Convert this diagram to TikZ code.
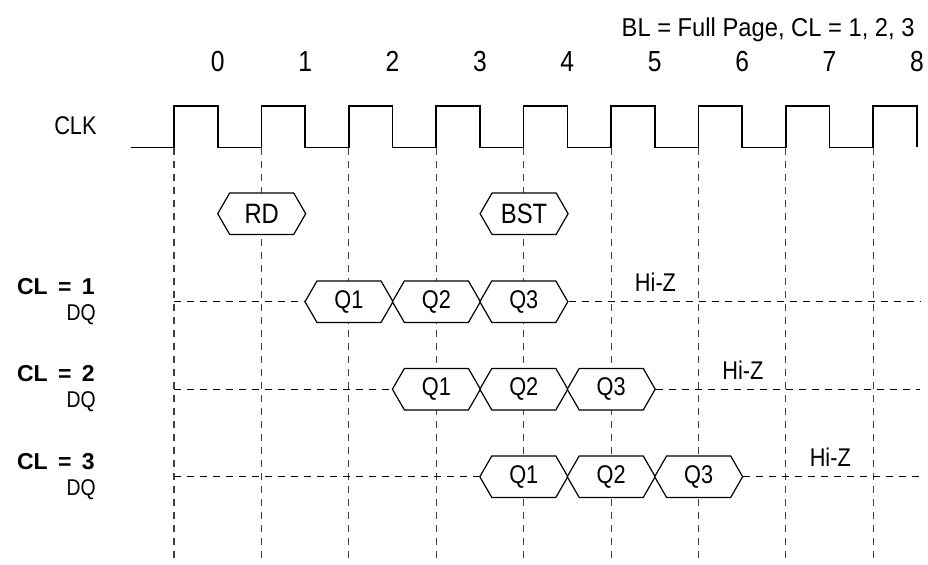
\documentclass[tikz,border=0pt]{standalone}
\usepackage{fontspec}
\setmainfont{Liberation Sans}[FakeStretch=0.85]
\newfontfamily\titlefont{Liberation Sans}[FakeStretch=0.92]
\newfontfamily\clfont{Liberation Sans}
\usetikzlibrary{shapes.symbols}

\begin{document}
\begin{tikzpicture}[x=0.5pt, y=-0.5pt,
	grid/.style={black!75, line width=0.55pt, dash pattern=on 3.5pt off 3pt},
	hiz/.style={line width=0.6pt, dash pattern=on 3.5pt off 3pt},
	bus/.style={signal, signal to=east and west, signal pointer angle=120, draw, fill=white,
		line width=0.6pt, minimum width=44pt, minimum height=20.8pt, inner sep=0pt,
		font=\fontsize{12.8}{14}\selectfont},
	lbl/.style={anchor=base east, inner sep=0pt, font=\fontsize{12.8}{14}\selectfont}]
	\useasboundingbox (0,0) rectangle (928,564);
	% clock edges
	\foreach \k in {0,...,8}
		\draw[grid] ({174+87.41*\k},148) -- ({174+87.41*\k},564);
	\draw[line width=0.8pt] (130.7,147.3) \foreach \k in {0,...,8}
		{ -| ({174+87.41*\k},105.7) -| ({217.7+87.41*\k},147.3) };
	\foreach \k in {0,...,8}
		\node (n\k) at ({217.7+87.41*\k},71.7) [anchor=base, inner sep=0pt, font=\fontsize{14.5}{16}\selectfont] {\k};
	\node (title) at (915,36) [lbl, font=\titlefont\fontsize{12.9}{14}\selectfont] {BL = Full Page, CL = 1, 2, 3};
	\node (clk) at (97,134.3) [lbl] {CLK};
	% commands
	\node (rd) at (261.7,213.7) [bus, font=\fontsize{14}{16}\selectfont] {RD};
	\node (bst) at (524.1,213.7) [bus, font=\fontsize{14}{16}\selectfont] {BST};
	% read data, one row per latency
	\foreach \r in {1,2,3} {
		\node (cl\r) at ({95},{294.3+87.5*(\r-1)}) [lbl, font=\clfont\bfseries\fontsize{11.5}{13}\selectfont] {CL\hspace{0.45em}=\hspace{0.45em}\r};
		\node (dq\r) at ({96},{320+87.5*(\r-1)}) [lbl, font=\fontsize{11.4}{13}\selectfont] {DQ};
		\foreach \q in {1,2,3}
			\node (q\r\q) at ({349+87.41*(\r+\q-2)},{301.7+87.5*(\r-1)}) [bus] {Q\q};
		\coordinate (s\r) at (174,{301.7+87.5*(\r-1)});
		\coordinate (e\r) at (920,{301.7+87.5*(\r-1)});
		\draw[hiz] (s\r) -- (q\r1.west);
		\draw[hiz] (q\r3.east) -- (e\r);
		\node (z\r) at ({655.5+87.41*(\r-1)},{282.7+87.5*(\r-1)}) [font=\fontsize{12.8}{14}\selectfont] {Hi-Z};
	}
\end{tikzpicture}
\end{document}
